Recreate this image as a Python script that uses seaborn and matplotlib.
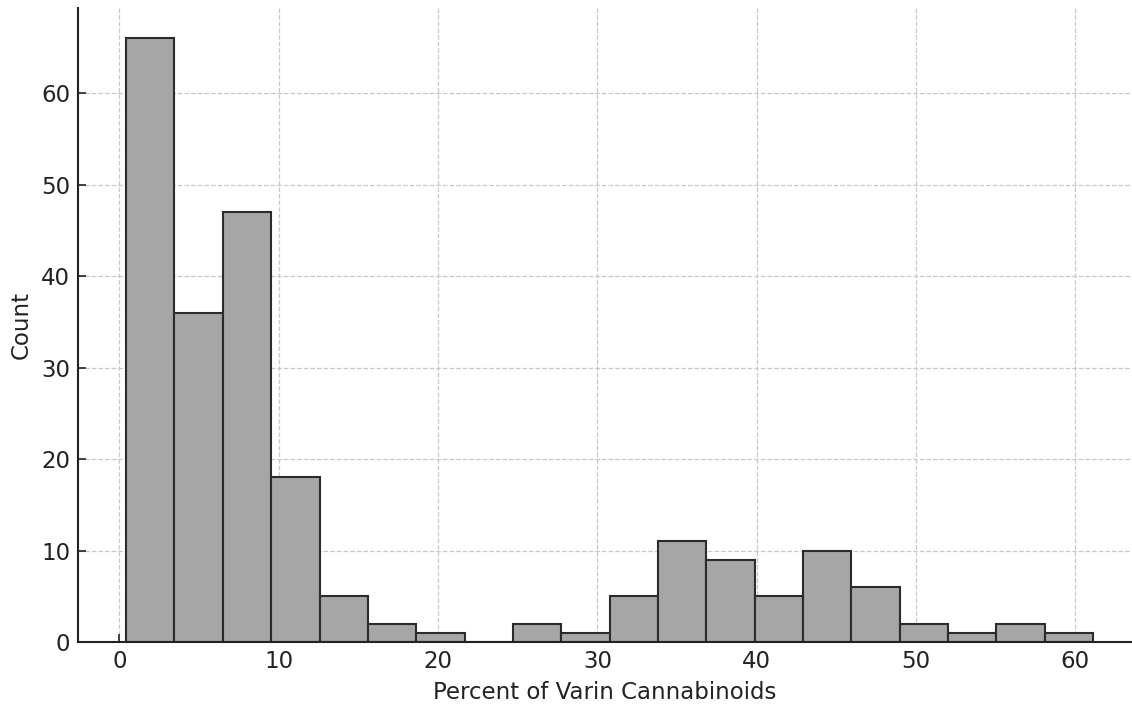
import numpy as np
import matplotlib
matplotlib.use("Agg")
import matplotlib.pyplot as plt
import seaborn as sns
import pandas as pd

# Histogram bin range (20 equal bins) and the count in each bin
bin_start = 0.42
bin_stop = 61.12
counts = [66, 36, 47, 18, 5, 2, 1, 0, 2, 1, 5, 11, 9, 5, 10, 6, 2, 1, 2, 1]
x_ticks = [0, 10, 20, 30, 40, 50, 60]
y_ticks = [0, 10, 20, 30, 40, 50, 60]

edges = np.linspace(bin_start, bin_stop, len(counts) + 1)
centers = (edges[:-1] + edges[1:]) / 2
df = pd.DataFrame({"varin": centers, "n": counts})

sns.set_style("white")
plt.rcParams["font.family"] = ["DejaVu Sans"]

fig = plt.figure(figsize=(11.32, 7.04), dpi=100)
ax = fig.add_axes([78 / 1132, 1 - 642 / 704, (1131 - 78) / 1132, (642 - 8) / 704])

sns.histplot(data=df, x="varin", weights="n", bins=len(counts),
             binrange=(bin_start, bin_stop), ax=ax,
             color="#a6a6a6", edgecolor="#2b2b2b", linewidth=1.5, alpha=1.0)

ax.set_xlim(-2.6, 63.5)
ax.set_ylim(0, 69.3)
ax.set_xticks(x_ticks)
ax.set_yticks(y_ticks)
ax.grid(True, linestyle="--", color="#c8c8c8", linewidth=0.9)
ax.set_axisbelow(True)
for s in ["top", "right"]:
    ax.spines[s].set_visible(False)
for s in ["left", "bottom"]:
    ax.spines[s].set_linewidth(1.5)
    ax.spines[s].set_color("#222222")
ax.tick_params(direction="in", length=6, width=1.2, labelsize=16.5, colors="#222222",
               left=True, bottom=True, pad=5.5)
ax.set_xlabel("Percent of Varin Cannabinoids", fontsize=16.5, color="#222222", labelpad=6)
ax.set_ylabel("Count", fontsize=16.5, color="#222222", labelpad=6)

fig.savefig("out.png", dpi=100)
